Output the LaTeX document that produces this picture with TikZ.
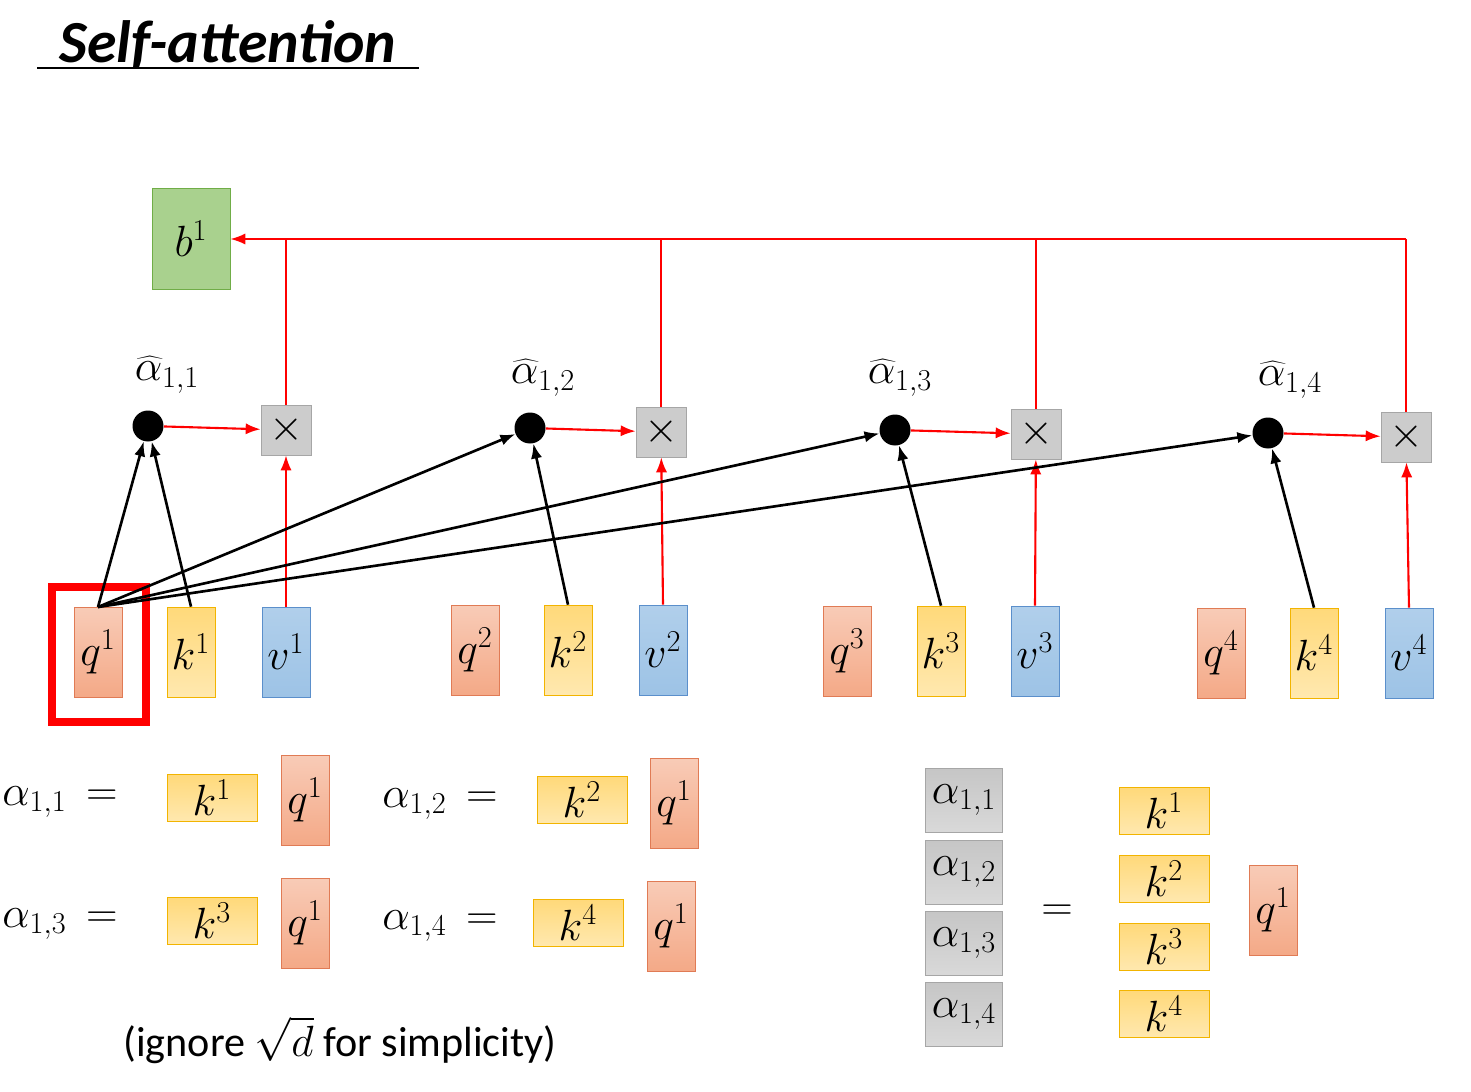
\documentclass[tikz,border=0pt]{standalone}
\usepackage{fontspec}
\setsansfont{Carlito}
\usetikzlibrary{arrows.meta}
\definecolor{qfill}{HTML}{F4A987}
\definecolor{qdraw}{HTML}{E07B55}
\definecolor{kfill}{HTML}{FFD97A}
\definecolor{kdraw}{HTML}{F2B400}
\definecolor{vfill}{HTML}{9DC3E6}
\definecolor{vdraw}{HTML}{5B8FCB}
\definecolor{bfill}{HTML}{A9D18E}
\definecolor{bdraw}{HTML}{70AD47}
\tikzstyle{vecbox} = [inner sep=0pt, minimum width=0.96cm, minimum height=1.8cm, font=\fontsize{24}{28}\selectfont]
\tikzstyle{qbox} = [vecbox, draw=qdraw, top color=qfill!60, bottom color=qfill]
\tikzstyle{kbox} = [vecbox, draw=kdraw, top color=kfill, bottom color=kfill!60]
\tikzstyle{vbox} = [vecbox, draw=vdraw, top color=vfill!80, bottom color=vfill]
\tikzstyle{kflat} = [kbox, minimum width=1.8cm, minimum height=0.94cm]
\tikzstyle{abox} = [inner sep=0pt, minimum width=1.54cm, minimum height=1.28cm, draw=gray!70, top color=gray!45, bottom color=gray!30, font=\fontsize{24}{28}\selectfont]
\tikzstyle{xbox} = [draw=gray!70, fill=gray!40, minimum size=1cm, inner sep=0pt]
\tikzstyle{dot} = [circle, fill=black, minimum size=0.62cm, inner sep=0pt]
\tikzstyle{eqtext} = [font=\fontsize{24}{28}\selectfont, inner sep=0pt]

\begin{document}
\begin{tikzpicture}[x=0.02cm, y=-0.02cm]
      \useasboundingbox (0,0) rectangle (1471,1092);
      \node[font=\sffamily\bfseries\itshape\fontsize{34}{40}\selectfont, inner sep=0pt] (title) at (228,45) {Self-attention};
      \draw[line width=1.5pt] (37,68) -- (419,68);

      \node[vecbox, draw=bdraw, fill=bfill, minimum width=1.56cm, minimum height=2.02cm] (b1) at (191,239) {$b^1$};

      % inputs
      \node[qbox] (q1) at (98,652) {$q^1$};
      \node[kbox] (k1) at (191,652) {$k^1$};
      \node[vbox] (v1) at (286,652) {$v^1$};
      \node[qbox] (q2) at (475,650) {$q^2$};
      \node[kbox] (k2) at (568,650) {$k^2$};
      \node[vbox] (v2) at (663,650) {$v^2$};
      \node[qbox] (q3) at (847,651) {$q^3$};
      \node[kbox] (k3) at (941,651) {$k^3$};
      \node[vbox] (v3) at (1035,651) {$v^3$};
      \node[qbox] (q4) at (1221,653) {$q^4$};
      \node[kbox] (k4) at (1314,653) {$k^4$};
      \node[vbox] (v4) at (1409,653) {$v^4$};
      \draw[red, line width=4.5pt] (52,587) rectangle (146,722);

      % scores
      \node[dot] (d1) at (148,426) {};
      \node[dot] (d2) at (530,428) {};
      \node[dot] (d3) at (895,430) {};
      \node[dot] (d4) at (1268,433) {};
      \node[eqtext] at (167,375) {$\widehat{\alpha}_{1,1}$};
      \node[eqtext] at (543,378) {$\widehat{\alpha}_{1,2}$};
      \node[eqtext] at (900,378) {$\widehat{\alpha}_{1,3}$};
      \node[eqtext] at (1290,380) {$\widehat{\alpha}_{1,4}$};
      \node[xbox] (x1) at (286,430) {\Huge$\times$};
      \node[xbox] (x2) at (661,432) {\Huge$\times$};
      \node[xbox] (x3) at (1036,434) {\Huge$\times$};
      \node[xbox] (x4) at (1406,437) {\Huge$\times$};

      \coordinate (qtop) at (98,607);
      \foreach \i in {1,...,4} {
        \draw[-{Latex[length=3mm]}, line width=1.5pt] (qtop) -- (d\i);
        \draw[-{Latex[length=3mm]}, line width=1.5pt] (k\i.north) -- (d\i);
        \draw[-{Latex[length=3mm]}, red, line width=1.2pt] (d\i) -- (x\i);
        \draw[-{Latex[length=3mm]}, red, line width=1.2pt] (v\i.north) -- (x\i);
        \draw[red, line width=1.2pt] (x\i.north) -- (x\i.north |- b1.east);
      }
      \draw[-{Latex[length=3mm]}, red, line width=1.2pt] (x4.north |- b1.east) -- (b1.east);

      % dot products
      \node[eqtext] (a11) at (60,802) {$\alpha_{1,1}\,=$};
      \node[kflat] (ka) at (212,798) {$k^1$};
      \node[qbox] (qa) at (305,800) {$q^1$};
      \node[eqtext] (a12) at (440,804) {$\alpha_{1,2}\,=$};
      \node[kflat] (kb) at (582,800) {$k^2$};
      \node[qbox] (qb) at (674,803) {$q^1$};
      \node[eqtext] (a13) at (60,924) {$\alpha_{1,3}\,=$};
      \node[kflat] (kc) at (212,921) {$k^3$};
      \node[qbox] (qc) at (305,923) {$q^1$};
      \node[eqtext] (a14) at (440,926) {$\alpha_{1,4}\,=$};
      \node[kflat] (kd) at (578,923) {$k^4$};
      \node[qbox] (qd) at (671,926) {$q^1$};
      \node[font=\sffamily\fontsize{24}{28}\selectfont, inner sep=0pt] (note) at (340,1040) {(ignore $\sqrt{d}$ for simplicity)};

      % matrix form
      \node[abox] (m1) at (964,800) {$\alpha_{1,1}$};
      \node[abox] (m2) at (964,872) {$\alpha_{1,2}$};
      \node[abox] (m3) at (964,943) {$\alpha_{1,3}$};
      \node[abox] (m4) at (964,1014) {$\alpha_{1,4}$};
      \node[eqtext] (eq) at (1057,913) {$=$};
      \node[kflat] (n1) at (1164,811) {$k^1$};
      \node[kflat] (n2) at (1164,879) {$k^2$};
      \node[kflat] (n3) at (1164,947) {$k^3$};
      \node[kflat] (n4) at (1164,1014) {$k^4$};
      \node[qbox] (qm) at (1273,910) {$q^1$};
\end{tikzpicture}
\end{document}
